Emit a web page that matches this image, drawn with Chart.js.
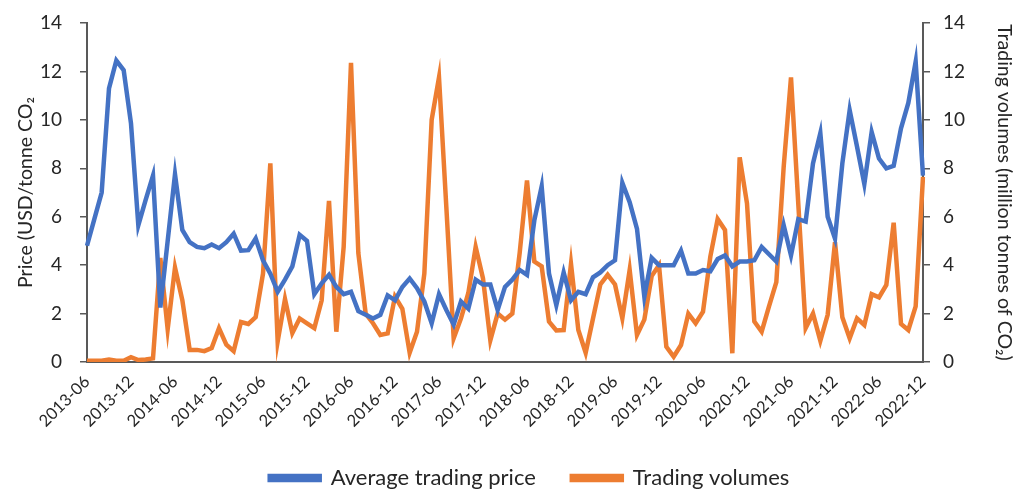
<!DOCTYPE html>
<html lang="en">
<head>
    <meta charset="UTF-8">
    <title>Carbon price and trading volumes</title>
    <style>
        body {
            margin: 0;
            background: #ffffff;
            overflow: hidden;
        }
        #wrap {
            width: 1016px;
            height: 489px;
        }
    </style>
    <script src="https://cdn.jsdelivr.net/npm/chart.js"></script>
</head>
<body>
    <div id="wrap">
        <canvas id="chart" width="1016" height="489"></canvas>
    </div>

    <script>
        // Tick labels shown on the x axis (every 6 months)
        const tickLabels = ['2013-06', '2013-12', '2014-06', '2014-12', '2015-06', '2015-12',
            '2016-06', '2016-12', '2017-06', '2017-12', '2018-06', '2018-12', '2019-06',
            '2019-12', '2020-06', '2020-12', '2021-06', '2021-12', '2022-06', '2022-12'];

        // Monthly categories, 2013-06 .. 2022-12
        const months = [];
        for (let y = 2013; y <= 2022; y++) {
            for (let m = 1; m <= 12; m++) {
                if (y === 2013 && m < 6) continue;
                months.push(y + '-' + String(m).padStart(2, '0'));
            }
        }

        // Average trading price (USD/tonne CO2)
        const price = [
            4.8, 5.9, 7.0, 11.3, 12.45, 12.05, 9.85, 5.65, 6.7, 7.7,
            2.25, 5.0, 7.75, 5.45, 4.95, 4.75, 4.7, 4.85, 4.7, 4.95,
            5.3, 4.6, 4.62, 5.1, 4.2, 3.65, 2.9, 3.4, 3.95, 5.25,
            5.0, 2.8, 3.25, 3.6, 3.1, 2.8, 2.9, 2.1, 1.95, 1.8,
            1.95, 2.75, 2.55, 3.1, 3.45, 3.05, 2.5, 1.6, 2.8, 2.15,
            1.55, 2.5, 2.2, 3.4, 3.2, 3.2, 2.15, 3.1, 3.4, 3.8,
            3.6, 5.85, 7.25, 3.65, 2.35, 3.7, 2.55, 2.9, 2.8, 3.5,
            3.7, 4.0, 4.2, 7.4, 6.6, 5.5, 2.7, 4.3, 4.0, 4.0,
            4.0, 4.6, 3.65, 3.65, 3.8, 3.75, 4.25, 4.4, 3.95, 4.15,
            4.15, 4.2, 4.75, 4.45, 4.15, 5.65, 4.4, 5.9, 5.8, 8.2,
            9.45, 6.0, 5.1, 8.2, 10.4, 8.9, 7.35, 9.5, 8.4, 8.0,
            8.1, 9.65, 10.7, 12.4, 7.7
        ];

        // Trading volumes (million tonnes of CO2)
        const volume = [
            0.05, 0.05, 0.05, 0.1, 0.05, 0.05, 0.2, 0.08, 0.1, 0.15,
            4.3, 1.35, 3.9, 2.55, 0.5, 0.5, 0.45, 0.58, 1.4, 0.72,
            0.45, 1.65, 1.57, 1.85, 3.65, 8.2, 0.85, 2.6, 1.2, 1.8,
            1.6, 1.4, 2.55, 6.65, 1.25, 4.75, 12.35, 4.5, 2.0, 1.6,
            1.12, 1.18, 2.7, 2.2, 0.38, 1.25, 3.65, 10.0, 11.75, 6.4,
            0.98, 1.8, 2.85, 4.75, 3.45, 0.9, 2.0, 1.75, 2.0, 4.5,
            7.5, 4.15, 3.95, 1.67, 1.3, 1.32, 4.05, 1.32, 0.38, 1.8,
            3.2, 3.6, 3.2, 1.8, 3.8, 1.12, 1.75, 3.55, 4.0, 0.63,
            0.22, 0.7, 2.0, 1.6, 2.08, 4.35, 5.9, 5.45, 0.36, 8.45,
            6.55, 1.67, 1.25, 2.3, 3.3, 8.05, 11.75, 6.5, 1.4, 2.0,
            0.88, 1.95, 4.95, 1.85, 0.98, 1.8, 1.53, 2.8, 2.67, 3.18,
            5.75, 1.57, 1.32, 2.3, 7.65
        ];

        const axisColor = '#595959';
        const textColor = '#262626';
        const fontFamily = 'Lato, "Open Sans", sans-serif';

        const yAxis = (position, title, width, tickPad, titlePad) => ({
            position: position,
            min: 0,
            max: 14,
            afterFit: (scale) => {
                scale.width = width;
                // let layout.padding decide the top edge
                scale.paddingTop = 0;
                scale.paddingBottom = 0;
            },
            ticks: {
                stepSize: 2,
                color: textColor,
                padding: tickPad,
                font: { family: fontFamily, size: 19 }
            },
            grid: {
                drawOnChartArea: false,
                drawTicks: true,
                tickLength: 7,
                color: axisColor,
                lineWidth: 1.5
            },
            border: { color: axisColor, width: 2 },
            title: {
                display: true,
                text: title,
                color: textColor,
                font: { family: fontFamily, size: 19.5 },
                padding: { top: titlePad, bottom: 0 }
            }
        });

        // nudge the legend to sit where the original one is
        const legendShift = {
            id: 'legendShift',
            afterLayout(chart) {
                chart.legend.left += 43;
            }
        };

        new Chart(document.getElementById('chart'), {
            type: 'line',
            data: {
                labels: months,
                datasets: [
                    {
                        label: 'Average trading price',
                        data: price,
                        yAxisID: 'y',
                        borderColor: '#4472C4',
                        backgroundColor: '#4472C4',
                        borderWidth: 4.5,
                        pointRadius: 0,
                        tension: 0
                    },
                    {
                        label: 'Trading volumes',
                        data: volume,
                        yAxisID: 'y2',
                        borderColor: '#ED7D31',
                        backgroundColor: '#ED7D31',
                        borderWidth: 4.5,
                        pointRadius: 0,
                        tension: 0
                    }
                ]
            },
            plugins: [legendShift],
            options: {
                responsive: false,
                animation: false,
                devicePixelRatio: 1,
                layout: { padding: { top: 23, left: 0, right: 0, bottom: 0 } },
                plugins: {
                    tooltip: { enabled: false },
                    legend: {
                        position: 'bottom',
                        maxHeight: 58,
                        labels: {
                            boxWidth: 50,
                            boxHeight: 4,
                            padding: 36,
                            color: textColor,
                            font: { family: fontFamily, size: 22 }
                        }
                    }
                },
                scales: {
                    x: {
                        offset: false,
                        afterFit: (scale) => { scale.height = 69; },
                        ticks: {
                            autoSkip: false,
                            maxRotation: 45,
                            minRotation: 45,
                            color: textColor,
                            padding: 2,
                            font: { family: fontFamily, size: 16.5 },
                            callback: function (val, i) {
                                const lab = months[i];
                                return tickLabels.includes(lab) ? lab : '';
                            }
                        },
                        grid: { display: false },
                        border: { color: axisColor, width: 2 }
                    },
                    y: yAxis('left', 'Price (USD/tonne CO\u2082', 87, 18, 14),
                    y2: yAxis('right', 'Trading volumes (million tonnes of CO\u2082)', 93, 13, 0)
                }
            }
        });
    </script>
</body>
</html>
